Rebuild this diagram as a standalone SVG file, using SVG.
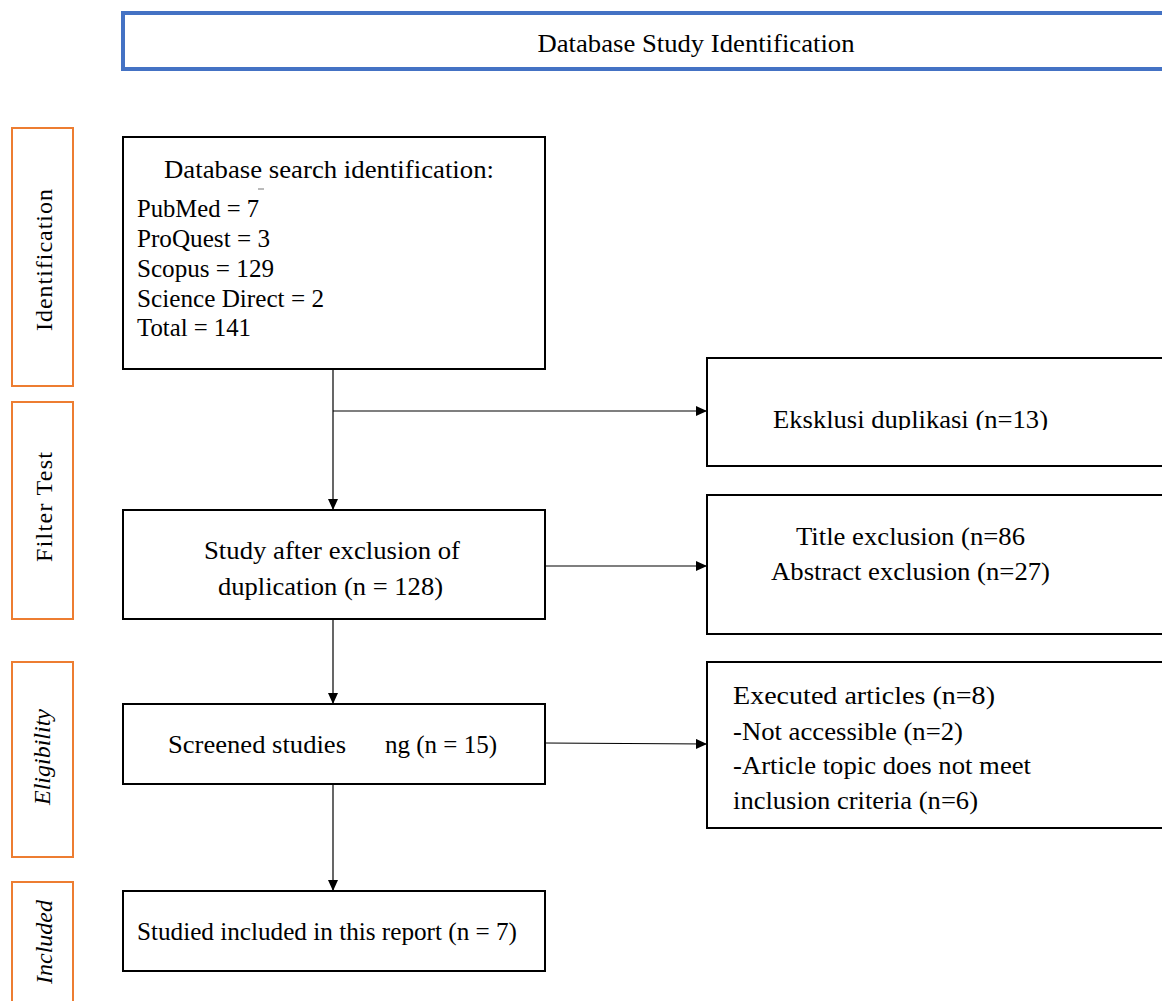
<svg xmlns="http://www.w3.org/2000/svg" width="1162" height="1001" viewBox="0 0 1162 1001">
<style>
text{font-family:"Liberation Serif","Times New Roman",serif;font-size:25px;fill:#000}
.box{fill:#fff;stroke:#000;stroke-width:2}
.side{fill:#fff;stroke:#ED7D31;stroke-width:2}
.conn{stroke:#000;stroke-width:1.2;fill:none}
.it{font-style:italic;font-size:24px}
.sl{font-size:24px}
</style>
<defs>
<marker id="ah" markerUnits="userSpaceOnUse" markerWidth="12" markerHeight="10" refX="11" refY="5" orient="auto">
<path d="M0,0 L11,5 L0,10 z" fill="#000"/>
</marker>
<clipPath id="clipDup"><rect x="700" y="350" width="470" height="80"/></clipPath>
</defs>
<rect width="1162" height="1001" fill="#fff"/>

<g id="title">
<rect x="123" y="13" width="1100" height="56" fill="#fff" stroke="#4472C4" stroke-width="4"/>
<text x="696" y="52" text-anchor="middle" textLength="317" lengthAdjust="spacingAndGlyphs">Database Study Identification</text>
</g>

<g id="side-identification">
<rect class="side" x="12" y="128" width="61" height="258"/>
<text class="sl" transform="translate(52,260) rotate(-90)" text-anchor="middle" textLength="142" lengthAdjust="spacing">Identification</text>
</g>
<g id="side-filter">
<rect class="side" x="12" y="402" width="61" height="217"/>
<text class="sl" transform="translate(52,507) rotate(-90)" text-anchor="middle" textLength="110" lengthAdjust="spacing">Filter Test</text>
</g>
<g id="side-eligibility">
<rect class="side" x="12" y="662" width="61" height="195"/>
<text class="it" transform="translate(50,757) rotate(-90)" text-anchor="middle">Eligibility</text>
</g>
<g id="side-included">
<rect class="side" x="12" y="882" width="61" height="130"/>
<text class="it" transform="translate(52,942) rotate(-90)" text-anchor="middle">Included</text>
</g>

<g id="connectors">
<line class="conn" x1="333" y1="369" x2="333" y2="510" marker-end="url(#ah)"/>
<line class="conn" x1="333" y1="411" x2="707" y2="411" marker-end="url(#ah)"/>
<line class="conn" x1="545" y1="566" x2="707" y2="566" marker-end="url(#ah)"/>
<line class="conn" x1="333" y1="619" x2="333" y2="704" marker-end="url(#ah)"/>
<line class="conn" x1="545" y1="743" x2="707" y2="744" marker-end="url(#ah)"/>
<line class="conn" x1="333" y1="785" x2="333" y2="891" marker-end="url(#ah)"/>
</g>

<g id="node-search">
<rect class="box" x="123" y="137" width="422" height="232"/>
<text x="164" y="178" textLength="330" lengthAdjust="spacingAndGlyphs">Database search identification:</text>
<line x1="258" y1="189" x2="264" y2="189" stroke="#777" stroke-width="1"/>
<text x="137" y="217" textLength="122" lengthAdjust="spacingAndGlyphs">PubMed = 7</text>
<text x="137" y="247" textLength="133" lengthAdjust="spacingAndGlyphs">ProQuest = 3</text>
<text x="137" y="277" textLength="137" lengthAdjust="spacingAndGlyphs">Scopus = 129</text>
<text x="137" y="307" textLength="187" lengthAdjust="spacingAndGlyphs">Science Direct = 2</text>
<text x="137" y="336" textLength="114" lengthAdjust="spacingAndGlyphs">Total = 141</text>
</g>

<g id="node-dup">
<rect class="box" x="707" y="358" width="470" height="108"/>
<text x="773" y="428" clip-path="url(#clipDup)" textLength="275" lengthAdjust="spacingAndGlyphs">Eksklusi duplikasi (n=13)</text>
</g>

<g id="node-after">
<rect class="box" x="123" y="510" width="422" height="109"/>
<text x="204" y="559" textLength="256" lengthAdjust="spacingAndGlyphs">Study after exclusion of</text>
<text x="218" y="595" textLength="225" lengthAdjust="spacingAndGlyphs">duplication (n = 128)</text>
</g>

<g id="node-title-excl">
<rect class="box" x="707" y="495" width="470" height="139"/>
<text x="796" y="545" textLength="229" lengthAdjust="spacingAndGlyphs">Title exclusion (n=86</text>
<text x="771" y="580" textLength="279" lengthAdjust="spacingAndGlyphs">Abstract exclusion (n=27)</text>
</g>

<g id="node-screened">
<rect class="box" x="123" y="704" width="422" height="80"/>
<text x="168" y="753" textLength="178" lengthAdjust="spacingAndGlyphs">Screened studies</text>
<text x="385" y="753" textLength="112" lengthAdjust="spacingAndGlyphs">ng (n = 15)</text>
</g>

<g id="node-executed">
<rect class="box" x="707" y="662" width="470" height="166"/>
<text x="733" y="704" textLength="262" lengthAdjust="spacingAndGlyphs">Executed articles (n=8)</text>
<text x="733" y="740" textLength="230" lengthAdjust="spacingAndGlyphs">-Not accessible (n=2)</text>
<text x="733" y="774" textLength="298" lengthAdjust="spacingAndGlyphs">-Article topic does not meet</text>
<text x="733" y="809" textLength="245" lengthAdjust="spacingAndGlyphs">inclusion criteria (n=6)</text>
</g>

<g id="node-included">
<rect class="box" x="123" y="891" width="422" height="80"/>
<text x="137" y="940" textLength="380" lengthAdjust="spacingAndGlyphs">Studied included in this report (n = 7)</text>
</g>
</svg>
